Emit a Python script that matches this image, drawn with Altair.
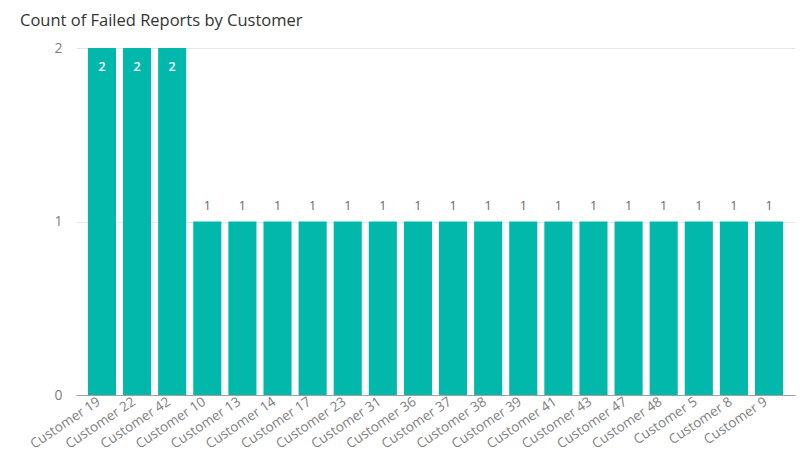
import altair as alt
import pandas as pd

customers = ["Customer 19", "Customer 22", "Customer 42", "Customer 10", "Customer 13",
             "Customer 14", "Customer 17", "Customer 23", "Customer 31", "Customer 36",
             "Customer 37", "Customer 38", "Customer 39", "Customer 41", "Customer 43",
             "Customer 47", "Customer 48", "Customer 5", "Customer 8", "Customer 9"]
counts = [2, 2, 2, 1, 1, 1, 1, 1, 1, 1, 1, 1, 1, 1, 1, 1, 1, 1, 1, 1]

df = pd.DataFrame({"Customer": customers, "Count": counts})
FONT = "Open Sans"

x = alt.X("Customer:N", sort=customers, title=None,
          scale=alt.Scale(paddingInner=0.2, paddingOuter=0.34),
          axis=alt.Axis(labelAngle=-34, labelAlign="right", labelBaseline="middle",
                        labelPadding=5, labelOffset=-3, ticks=False, domain=True,
                        domainColor="#a0a0a0", labelColor="#808080", labelFontSize=13.5,
                        labelFont=FONT, labelOverlap=False))
y = alt.Y("Count:Q", title=None, scale=alt.Scale(domain=[0, 2], nice=False),
          axis=alt.Axis(tickCount=2, ticks=False, domain=False, grid=True,
                        gridColor="#e6e6e6", labelColor="#808080", labelFontSize=14,
                        labelFont=FONT, labelPadding=14, format="d",
                        labelOverlap=False))

base = alt.Chart(df).encode(x=x, y=y)
bars = base.mark_bar(color="#01B8AA")
inside = base.transform_filter("datum.Count >= 2").mark_text(
    color="white", fontSize=12.5, font=FONT, fontWeight=600, baseline="middle", dy=19
).encode(text="Count:Q")
above = base.transform_filter("datum.Count < 2").mark_text(
    color="#666666", fontSize=12.5, font=FONT, baseline="middle", dy=-16
).encode(text="Count:Q")

chart = (bars + inside + above).properties(
    width=719, height=347,
    autosize=alt.AutoSizeParams(type="none"),
    padding={"left": 68, "top": 40, "right": 4, "bottom": 55},
    title=alt.TitleParams("Count of Failed Reports by Customer", anchor="start",
                          frame="group", fontSize=16.5, font=FONT, fontWeight="normal",
                          color="#333333", dx=-56, offset=12),
).configure(background="white").configure_view(stroke=None)

chart.save("out.html", embed_options={"renderer": "svg", "actions": False})
